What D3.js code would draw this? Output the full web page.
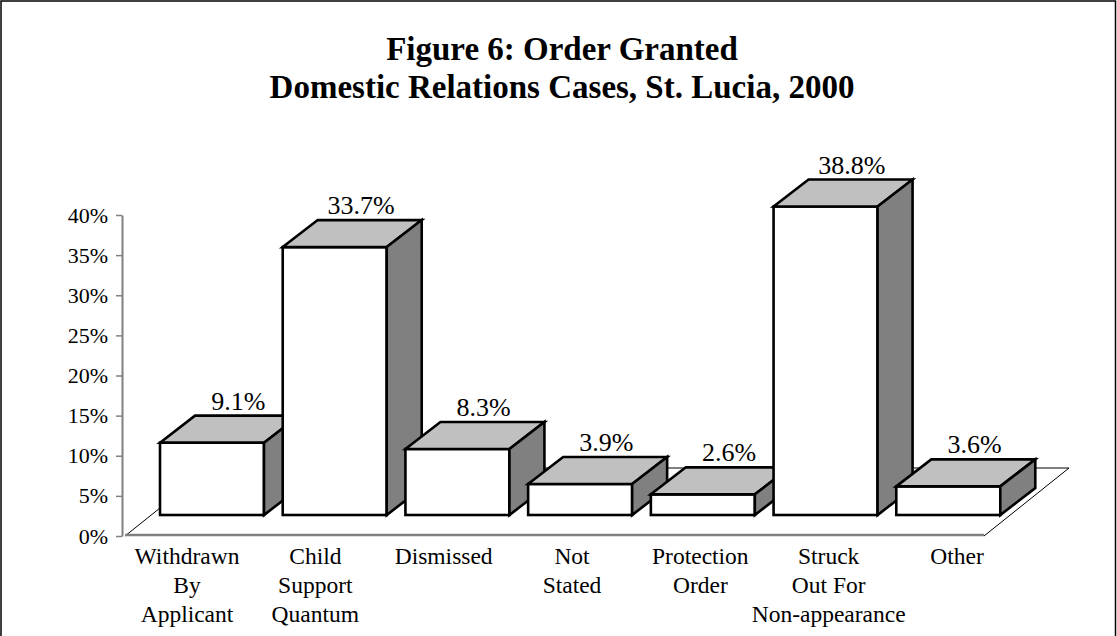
<!DOCTYPE html>
<html>
<head>
<meta charset="utf-8">
<script src="https://cdn.jsdelivr.net/npm/d3@7"></script>
<style>
  html, body { margin: 0; padding: 0; background: #fff; }
  svg { display: block; }
  text { font-family: "Liberation Serif", "Times New Roman", serif; fill: #000; }
</style>
</head>
<body>
<svg id="chart" width="1117" height="636"></svg>
<script>
const categories = [
  ["Withdrawn", "By", "Applicant"],
  ["Child", "Support", "Quantum"],
  ["Dismissed"],
  ["Not", "Stated"],
  ["Protection", "Order"],
  ["Struck", "Out For", "Non-appearance"],
  ["Other"]
];
const values = [9.1, 33.7, 8.3, 3.9, 2.6, 38.8, 3.6];
const tickValues = [0, 5, 10, 15, 20, 25, 30, 35, 40];
const titleLines = ["Figure 6: Order Granted", "Domestic Relations Cases, St. Lucia, 2000"];

const svg = d3.select("#chart");
const W = 1117, H = 636;

// border
svg.append("rect").attr("x", 1).attr("y", 1).attr("width", W - 2.5).attr("height", H + 10)
  .attr("fill", "#fff").attr("stroke", "#000").attr("stroke-width", 1.5);

// title
svg.append("g").selectAll("text").data(titleLines).join("text")
  .attr("x", 562).attr("y", (d, i) => 60 + i * 38)
  .attr("text-anchor", "middle").attr("font-weight", "bold").attr("font-size", 33)
  .text(d => d);

const keys = categories.map((c, i) => i);
const x = d3.scaleBand().domain(keys).range([125, 984]).paddingInner(0).paddingOuter(0);
const y = d3.scaleLinear().domain([0, 40]).range([536, 215]);
// bar front plane (sits part way back in the floor)
const yBar = d3.scaleLinear().domain([0, 40]).range([515, 197]);
const xLabel = d3.scalePoint().domain(keys).range([187, 957]);

const floorDX = 85, floorDY = -68;
const barDX = 35, barDY = -27;
const barOffset = 35, barW = 104;

// floor
const f0 = x.range()[0], f1 = x.range()[1], fy = y(0);
svg.append("path")
  .attr("d", `M${f0},${fy} L${f0 + floorDX},${fy + floorDY} L${f1 + floorDX},${fy + floorDY} L${f1},${fy}`)
  .attr("fill", "#fff").attr("stroke", "#000").attr("stroke-width", 1);
svg.append("line").attr("x1", f0).attr("x2", f1).attr("y1", fy - 1).attr("y2", fy - 1)
  .attr("stroke", "#808080").attr("stroke-width", 2.5);

// y axis
const axis = svg.append("g").attr("transform", "translate(122,0)")
  .call(d3.axisLeft(y).tickValues(tickValues).tickFormat(d => d + "%").tickSize(6).tickSizeOuter(0).tickPadding(8));
axis.select(".domain").attr("stroke", "#808080").attr("stroke-width", 2);
axis.selectAll(".tick line").attr("stroke", "#808080").attr("stroke-width", 1.5);
axis.selectAll(".tick text").attr("font-size", 22).attr("font-family", "Liberation Serif, serif").attr("fill", "#000");

// bars
const bars = svg.append("g").selectAll("g").data(values).join("g");
bars.each(function (v, i) {
  const g = d3.select(this);
  const x0 = x(i) + barOffset, x1 = x0 + barW;
  const yb = yBar(0), yt = yBar(v);
  const sw = 2.6;
  g.append("rect").attr("x", x0).attr("y", yt).attr("width", barW).attr("height", yb - yt)
    .attr("fill", "#fff").attr("stroke", "#000").attr("stroke-width", sw);
  g.append("path")
    .attr("d", `M${x0},${yt} L${x0 + barDX},${yt + barDY} L${x1 + barDX},${yt + barDY} L${x1},${yt} Z`)
    .attr("fill", "#c0c0c0").attr("stroke", "#000").attr("stroke-width", sw).attr("stroke-linejoin", "miter");
  g.append("path")
    .attr("d", `M${x1},${yt} L${x1 + barDX},${yt + barDY} L${x1 + barDX},${yb + barDY} L${x1},${yb} Z`)
    .attr("fill", "#808080").attr("stroke", "#000").attr("stroke-width", sw).attr("stroke-linejoin", "miter");
  g.append("text")
    .attr("x", x0 + barW / 2 + barDX * 0.75).attr("y", yt + barDY - 6)
    .attr("text-anchor", "middle").attr("font-size", 26)
    .text(v.toFixed(1) + "%");
});

// category labels
const cl = svg.append("g").selectAll("text").data(categories).join("text")
  .attr("text-anchor", "middle").attr("font-size", 23.5)
  .attr("x", (d, i) => xLabel(i)).attr("y", 564);
cl.selectAll("tspan").data(d => d).join("tspan")
  .attr("x", function () { return d3.select(this.parentNode).attr("x"); })
  .attr("dy", (d, j) => j === 0 ? 0 : 29)
  .text(d => d);
</script>
</body>
</html>
